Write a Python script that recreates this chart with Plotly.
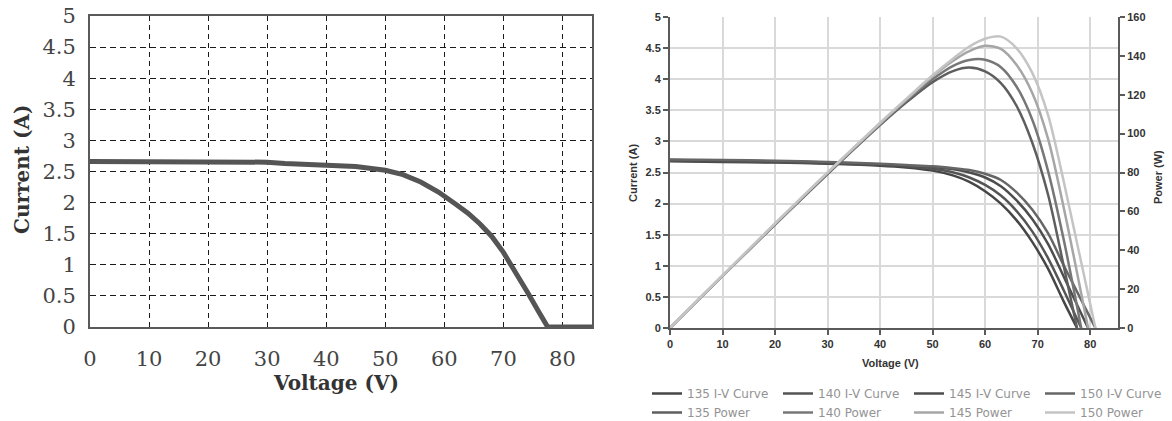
import plotly.graph_objects as go

W, H = 1172, 421

# ---------------- data ----------------
# Left chart: single I-V curve
left_voltage = [0, 10, 20, 30, 33, 40, 45, 50, 53, 56, 59, 62, 64, 66, 68, 70, 72, 74, 76, 77.5, 85]
left_current = [2.66, 2.66, 2.66, 2.65, 2.63, 2.61, 2.58, 2.52, 2.45, 2.33, 2.17, 1.97, 1.83, 1.66, 1.46, 1.20, 0.90, 0.57, 0.24, 0.0, 0.0]

# Right chart: I-V curves and power curves for 4 panel ratings
ratings = ["135", "140", "145", "150"]
right_voltage = {
    "135": [0, 10, 20, 30, 40, 45, 50, 54, 57, 60, 63, 66, 69, 72, 75, 77.5],
    "140": [0, 10, 20, 30, 40, 45, 50, 54, 57, 60, 63, 66, 69, 72, 75, 78.3],
    "145": [0, 10, 20, 30, 40, 45, 50, 54, 57, 60, 63, 66, 69, 72, 75, 79.6],
    "150": [0, 10, 20, 30, 40, 45, 50, 54, 57, 60, 63, 66, 69, 72, 75, 81.0],
}
iv_current = {
    "135": [2.68, 2.67, 2.66, 2.64, 2.61, 2.58, 2.53, 2.45, 2.35, 2.20, 2.00, 1.73, 1.38, 0.95, 0.42, 0],
    "140": [2.69, 2.68, 2.67, 2.65, 2.62, 2.60, 2.56, 2.50, 2.42, 2.30, 2.13, 1.88, 1.55, 1.12, 0.60, 0],
    "145": [2.70, 2.69, 2.68, 2.66, 2.63, 2.61, 2.59, 2.55, 2.50, 2.42, 2.28, 2.05, 1.75, 1.35, 0.82, 0],
    "150": [2.71, 2.70, 2.69, 2.67, 2.64, 2.62, 2.60, 2.57, 2.54, 2.48, 2.38, 2.18, 1.90, 1.52, 1.00, 0],
}
power = {
    "135": [0, 26.8, 53.2, 79.2, 104.4, 116.1, 126.5, 132.3, 134.0, 132.0, 126.0, 114.2, 95.2, 68.4, 31.5, 0],
    "140": [0, 26.8, 53.4, 79.5, 104.8, 117.0, 128.0, 135.0, 137.9, 138.0, 134.2, 124.1, 107.0, 80.6, 45.0, 0],
    "145": [0, 26.9, 53.6, 79.8, 105.2, 117.5, 129.5, 137.7, 142.5, 145.2, 143.6, 135.3, 120.8, 97.2, 61.5, 0],
    "150": [0, 27.0, 53.8, 80.1, 105.6, 117.9, 130.0, 138.8, 144.8, 148.8, 149.9, 143.9, 131.1, 109.4, 75.0, 0],
}

iv_colors = {"135": "#464646", "140": "#555555", "145": "#4d4d4d", "150": "#666666"}
pw_colors = {"135": "#5e5e5e", "140": "#777777", "145": "#a6a6a6", "150": "#c4c4c4"}

# ---------------- helpers ----------------
def px_x(p):
    return p / W

def px_y(p):
    return 1 - p / H

fig = go.Figure()

# left curve
fig.add_trace(go.Scatter(
    x=left_voltage, y=left_current, mode="lines",
    line=dict(color="#555555", width=5),
    xaxis="x", yaxis="y", showlegend=False, hoverinfo="skip"))

# right I-V curves
for r in ratings:
    fig.add_trace(go.Scatter(
        x=right_voltage[r], y=iv_current[r], mode="lines",
        line=dict(color=iv_colors[r], width=2.5, shape="spline", smoothing=0.8),
        name=f"{r} I-V Curve", xaxis="x2", yaxis="y2", legend="legend"))

# right power curves
for r in ratings:
    fig.add_trace(go.Scatter(
        x=right_voltage[r], y=power[r], mode="lines",
        line=dict(color=pw_colors[r], width=2.5, shape="spline", smoothing=0.8),
        name=f"{r} Power", xaxis="x2", yaxis="y3", legend="legend2"))

serif = "DejaVu Serif"
sans = "Liberation Sans"

def title_ann(text, x, y, family, size, angle=0):
    return dict(text=f"<b>{text}</b>", x=px_x(x), y=px_y(y), xref="paper", yref="paper",
                xanchor="center", yanchor="middle", showarrow=False, textangle=angle,
                font=dict(family=family, size=size, color="#333333"))

fig.update_layout(
    width=W, height=H,
    margin=dict(l=0, r=0, t=0, b=0, autoexpand=False),
    paper_bgcolor="white", plot_bgcolor="white",
    xaxis=dict(
        domain=[px_x(90), px_x(592)], anchor="y", range=[0, 85],
        tickvals=[0, 10, 20, 30, 40, 50, 60, 70, 80],
        showgrid=True, gridcolor="#1a1a1a", griddash="5px,4px", gridwidth=1.3,
        showline=True, linecolor="#5a5a5a", linewidth=2, mirror=True,
        zeroline=False, ticks="", ticklabelstandoff=12,
        tickfont=dict(family=serif, size=21, color="#444444"),
    ),
    yaxis=dict(
        domain=[px_y(327), px_y(16)], anchor="x", range=[0, 5],
        tickvals=[0, 0.5, 1, 1.5, 2, 2.5, 3, 3.5, 4, 4.5, 5],
        ticktext=["0", "0.5", "1", "1.5", "2", "2.5", "3", "3.5", "4", "4.5", "5"],
        showgrid=True, gridcolor="#1a1a1a", griddash="6px,4px", gridwidth=1.3,
        showline=True, linecolor="#5a5a5a", linewidth=2, mirror=True,
        zeroline=False, ticks="", ticklabelstandoff=8,
        tickfont=dict(family=serif, size=21, color="#444444"),
    ),
    xaxis2=dict(
        domain=[px_x(670), px_x(1118)], anchor="y2", range=[0, 85.3],
        tickvals=[0, 10, 20, 30, 40, 50, 60, 70, 80],
        showgrid=True, gridcolor="#d9d9d9", gridwidth=2,
        showline=True, linecolor="#5a5a5a", linewidth=2,
        zeroline=False, ticks="outside", ticklen=5, tickcolor="#5a5a5a", tickwidth=2,
        tickfont=dict(family=sans, size=11, color="#333333", weight="bold"),
    ),
    yaxis2=dict(
        domain=[px_y(328), px_y(17)], anchor="x2", range=[0, 5],
        tickvals=[0, 0.5, 1, 1.5, 2, 2.5, 3, 3.5, 4, 4.5, 5],
        ticktext=["0", "0.5", "1", "1.5", "2", "2.5", "3", "3.5", "4", "4.5", "5"],
        showgrid=True, gridcolor="#d9d9d9", gridwidth=2,
        showline=True, linecolor="#5a5a5a", linewidth=2,
        zeroline=False, ticks="outside", ticklen=5, tickcolor="#5a5a5a", tickwidth=2,
        tickfont=dict(family=sans, size=11, color="#333333", weight="bold"),
    ),
    yaxis3=dict(
        overlaying="y2", side="right", anchor="x2", range=[0, 160],
        tickvals=[0, 20, 40, 60, 80, 100, 120, 140, 160],
        showgrid=False, showline=True, linecolor="#5a5a5a", linewidth=2,
        zeroline=False, ticks="outside", ticklen=5, tickcolor="#5a5a5a", tickwidth=2,
        tickfont=dict(family=sans, size=11, color="#333333", weight="bold"),
    ),
    legend=dict(
        orientation="h", x=px_x(647), y=px_y(379), xanchor="left", yanchor="top",
        entrywidth=86, itemwidth=30, bgcolor="rgba(0,0,0,0)",
        font=dict(family="DejaVu Sans", size=12, color="#939393"),
        tracegroupgap=0,
    ),
    legend2=dict(
        orientation="h", x=px_x(647), y=px_y(398), xanchor="left", yanchor="top",
        entrywidth=86, itemwidth=30, bgcolor="rgba(0,0,0,0)",
        font=dict(family="DejaVu Sans", size=12, color="#939393"),
        tracegroupgap=0,
    ),
    annotations=[
        title_ann("Current (A)", 22, 170, serif, 20, -90),
        title_ann("Voltage (V)", 336, 383, serif, 20),
        title_ann("Current (A)", 633, 173, sans, 11, -90),
        title_ann("Voltage (V)", 890, 363, sans, 11),
        title_ann("Power (W)", 1158, 177, sans, 11, -90),
    ],
)

fig.write_html("out.html")
